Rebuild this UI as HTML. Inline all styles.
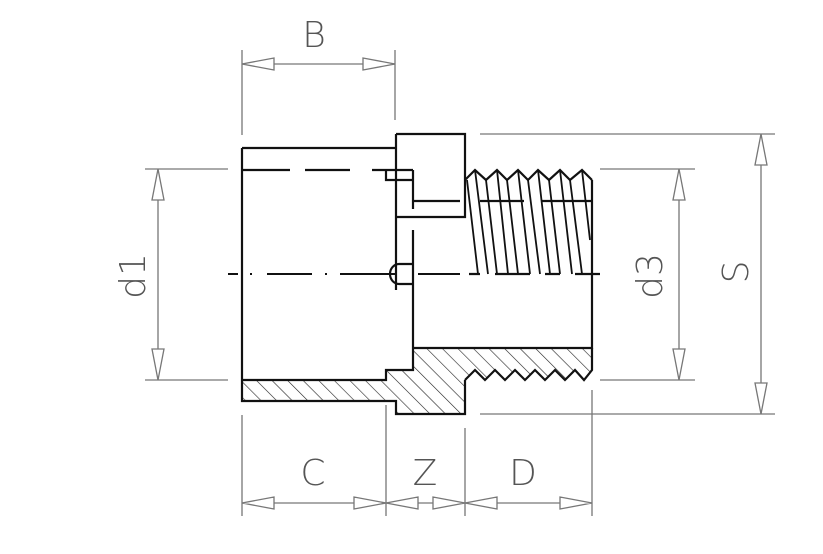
<!DOCTYPE html>
<html><head><meta charset="utf-8"><style>
html,body{margin:0;padding:0;background:#fff;}
svg{display:block;}
text{font-family:"DejaVu Sans","Liberation Sans",sans-serif;fill:#555;font-weight:200;}
</style></head><body>
<svg width="823" height="554" viewBox="0 0 823 554" xmlns="http://www.w3.org/2000/svg">
<defs>
<pattern id="h" patternUnits="userSpaceOnUse" width="11" height="11" patternTransform="rotate(-45)">
<line x1="0" y1="0" x2="0" y2="11" stroke="#222" stroke-width="1.2"/>
</pattern>
</defs>
<rect width="823" height="554" fill="#fff"/>
<path d="M242,380 L386,380 L386,370 L413,370 L413,348 L592,348 L592,370 L584,380 L575,370 L565,380 L555,370 L545,380 L535,370 L525,380 L515,370 L505,380 L495,370 L485,380 L475,370 L465,380 L465,414 L396,414 L396,401 L242,401 Z" fill="url(#h)" stroke="none"/>
<g stroke="#111" stroke-width="2.2" fill="none">
<path d="M242,148 L396,148 M242,148 L242,401 L396,401 L396,414 L465,414 L465,380"/>
<path d="M396,134 L465,134 L465,217 L396,217 M396,134 L396,290"/>
<path d="M242,380 L386,380 L386,370 L413,370 L413,230 M413,170 L413,209 M413,201 L460,201"/>
<path d="M386,170 L386,180 L413,180"/>
<path d="M413,348 L592,348 L592,180"/>
<path d="M465,380 L475,370 L485,380 L495,370 L505,380 L515,370 L525,380 L535,370 L545,380 L555,370 L565,380 L575,370 L584,380 L592,370 L592,348"/>
<path d="M413,264 L399,264 A9,10 0 0 0 399,284 L413,284"/>
<path d="M465,180 L475,170 L486,180 L497,170 L507,180 L518,170 L528,180 L538,170 L549,180 L560,170 L570,180 L582,170 L592,180"/>
<path d="M480,201 L524,201 M542,201 L592,201"/>
<g stroke-width="1.8">
<path d="M467,180 L478,274 M475,170 L488,274 M486,180 L497,274 M497,170 L508,274 M507,180 L518,274 M518,170 L530,274 M528,180 L540,274 M538,170 L550,274 M549,180 L560,274 M560,170 L572,274 M570,180 L582,274 M582,170 L590,240"/>
</g>
<path d="M469,274 L480,274 M495,274 L530,274 M545,274 L560,274 M575,274 L600,274"/>
</g>
<path d="M242,170 L290,170 M305,170 L350,170 M372,170 L413,170" stroke="#111" stroke-width="2.2"/>
<path d="M228,274 L238,274 M250,274 L252,274 M267,274 L312,274 M325,274 L327,274 M340,274 L395,274 M418,274 L460,274" stroke="#111" stroke-width="2"/>
<g stroke="#777" stroke-width="1.3" fill="#fff">
<path d="M242,50 L242,135 M395,50 L395,120 M242,64 L395,64"/>
<path d="M145,169 L228,169 M145,380 L228,380 M158,169 L158,380"/>
<path d="M600,169 L695,169 M600,380 L695,380 M679,169 L679,380"/>
<path d="M480,134 L775,134 M480,414 L775,414 M761,134 L761,414"/>
<path d="M242,415 L242,516 M386,405 L386,516 M465,428 L465,516 M592,390 L592,516 M242,503 L592,503"/>
<path d="M242,64 L274,58 L274,70 Z M395,64 L363,58 L363,70 Z"/>
<path d="M158,169 L152,200 L164,200 Z M158,380 L152,349 L164,349 Z"/>
<path d="M679,169 L673,200 L685,200 Z M679,380 L673,349 L685,349 Z"/>
<path d="M761,134 L755,165 L767,165 Z M761,414 L755,383 L767,383 Z"/>
<path d="M242,503 L274,497 L274,509 Z M386,503 L354,497 L354,509 Z M386,503 L418,497 L418,509 Z M465,503 L433,497 L433,509 Z M465,503 L497,497 L497,509 Z M592,503 L560,497 L560,509 Z"/>
</g>
<text x="314" y="47" font-size="36" text-anchor="middle">B</text>
<text x="313" y="485" font-size="36" text-anchor="middle">C</text>
<text x="425" y="485" font-size="36" text-anchor="middle">Z</text>
<text x="523" y="485" font-size="36" text-anchor="middle">D</text>
<text transform="translate(145,276) rotate(-90)" font-size="36" text-anchor="middle">d1</text>
<text transform="translate(662,276) rotate(-90)" font-size="36" text-anchor="middle">d3</text>
<text transform="translate(748,272) rotate(-90)" font-size="36" text-anchor="middle">S</text>
</svg>
</body></html>
